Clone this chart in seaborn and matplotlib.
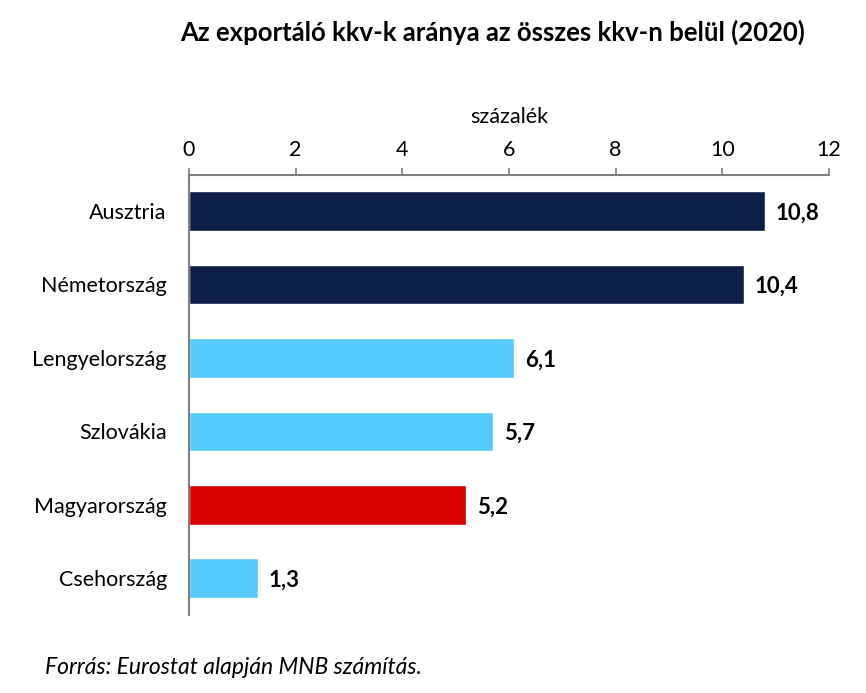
import matplotlib
matplotlib.use("Agg")
import matplotlib.pyplot as plt
import seaborn as sns
import pandas as pd

countries = ["Ausztria", "Németország", "Lengyelország", "Szlovákia", "Magyarország", "Csehország"]
values = [10.8, 10.4, 6.1, 5.7, 5.2, 1.3]
colors = ["#0E1F47", "#0E1F47", "#55CBFE", "#55CBFE", "#D90000", "#55CBFE"]
ticks = [0, 2, 4, 6, 8, 10, 12]

title = "Az exportáló kkv-k aránya az összes kkv-n belül (2020)"
unit = "százalék"
source = "Forrás: Eurostat alapján MNB számítás."

sns.set_theme(style="white")
plt.rcParams["font.family"] = ["Lato", "DejaVu Sans"]

df = pd.DataFrame({"country": countries, "value": values})

fig = plt.figure(figsize=(8.66, 6.93), dpi=100)
ax = fig.add_axes([189/866, 1 - 615/693, 640/866, 440/693])

sns.barplot(data=df, x="value", y="country", hue="country",
            palette=dict(zip(countries, colors)), orient="h",
            width=0.54, legend=False, ax=ax, saturation=1)

ax.set_xlim(0, 12)
ax.set_ylim(5.5, -0.49)
ax.xaxis.set_ticks_position("top")
ax.xaxis.set_label_position("top")
ax.set_xticks(ticks)
ax.set_xticklabels([str(t) for t in ticks], fontsize=15.5, color="black")
ax.tick_params(axis="x", direction="out", length=5, width=1.2, color="#808080", pad=6)
ax.tick_params(axis="y", length=0, pad=16, labelsize=15.5, labelcolor="black")
ax.set_xlabel(unit, fontsize=15.5, labelpad=12, color="black")
ax.set_ylabel("")

for s in ["right", "bottom"]:
    ax.spines[s].set_visible(False)
for s in ["top", "left"]:
    ax.spines[s].set_color("#808080")
    ax.spines[s].set_linewidth(1.5)

for i, v in enumerate(values):
    ax.text(v + 0.2, i + 0.03, f"{v:.1f}".replace(".", ","), va="center", ha="left",
            fontsize=16, fontweight="bold", color="black")

fig.text(493/866, 1 - 32/693, title, ha="center", va="center",
         fontsize=18.5, fontweight="bold", color="black")
fig.text(45/866, 1 - 668/693, source, ha="left", va="center",
         fontsize=16.5, style="italic", color="black")

fig.savefig("out.png", dpi=100)
